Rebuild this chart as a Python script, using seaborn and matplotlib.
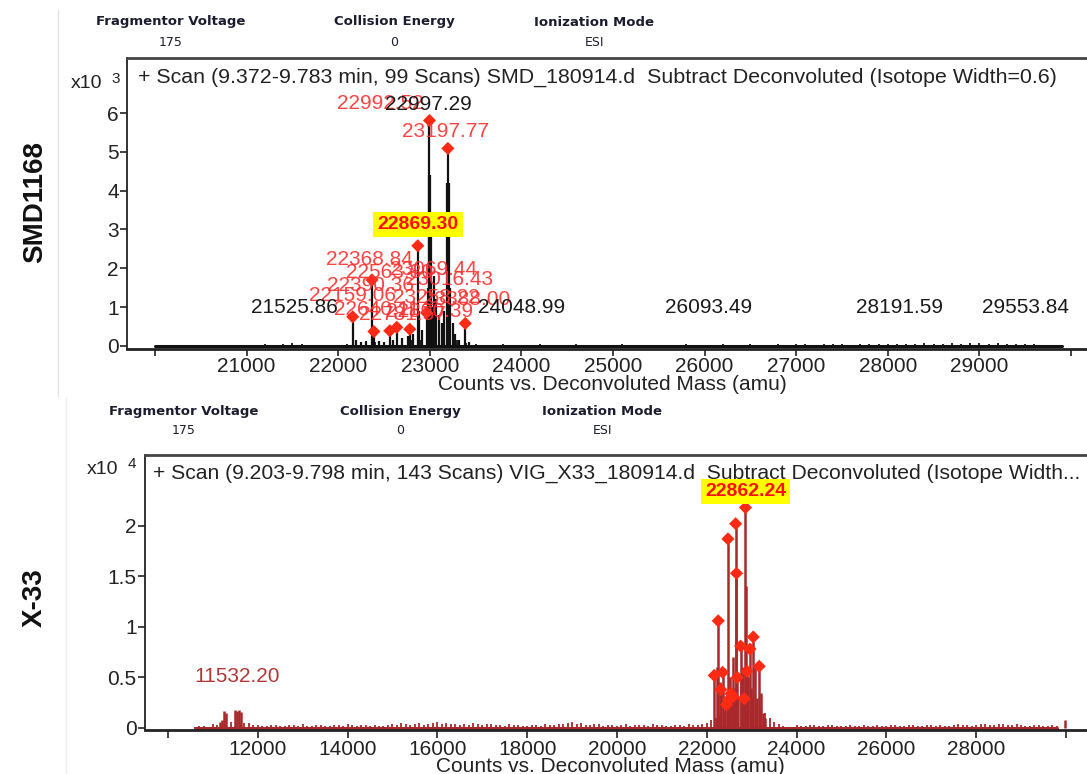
import numpy as np
import pandas as pd
import matplotlib
matplotlib.use("Agg")
import matplotlib.pyplot as plt
import seaborn as sns

# ---------------- data ----------------
header_titles = ["Fragmentor Voltage", "Collision Energy", "Ionization Mode"]
header_values = ["175", "0", "ESI"]

top_title = "+ Scan (9.372-9.783 min, 99 Scans) SMD_180914.d  Subtract Deconvoluted (Isotope Width=0.6)"
bot_title = "+ Scan (9.203-9.798 min, 143 Scans) VIG_X33_180914.d  Subtract Deconvoluted (Isotope Width..."
xlabel = "Counts vs. Deconvoluted Mass (amu)"
sample_names = ["SMD1168", "X-33"]

# top spectrum (x10^3 counts)
top_peak_mass = [22159.06, 22190, 22250, 22300, 22368.84, 22390.36, 22450, 22500, 22563.80, 22600,
                 22640.11, 22700, 22760, 22781.57, 22820, 22869.30, 22880, 22920, 22966.10, 22980,
                 22990, 22997.29, 23003, 23010, 23030, 23050, 23069.44, 23100, 23130, 23160,
                 23185, 23197.77, 23205, 23220, 23250, 23280, 23320, 23388.00, 23430]
top_peak_int = [0.75, 0.15, 0.10, 0.12, 1.70, 0.37, 0.12, 0.10, 0.39, 0.15,
                0.48, 0.20, 0.25, 0.43, 0.30, 2.58, 0.90, 0.40, 0.85, 1.50,
                4.40, 5.81, 4.40, 3.00, 1.00, 1.80, 1.20, 0.80, 0.60, 0.90,
                4.20, 5.09, 4.20, 1.50, 0.60, 0.30, 0.15, 0.58, 0.10]
top_marked = [22159.06, 22368.84, 22390.36, 22563.80, 22640.11, 22781.57, 22869.30,
              22966.10, 22997.29, 23197.77, 23388.00]

top_noise_start, top_noise_step = 20000, 100
top_noise = [0.01, 0.01, 0.01, 0.02, 0.01, 0.01, 0.02, 0.01, 0.02, 0.01,
             0.03, 0.02, 0.04, 0.03, 0.05, 0.08, 0.05, 0.02, 0.01, 0.01,
             0.02, 0.04, 0.08, 0.06, 0.10, 0.08, 0.12, 0.10, 0.15, 0.14,
             0.30, 0.25, 0.20, 0.15, 0.08, 0.04, 0.02,
             0.03, 0.04, 0.02, 0.03, 0.03, 0.04, 0.02, 0.03, 0.03, 0.04,
             0.02, 0.03, 0.03, 0.02, 0.04, 0.03, 0.03, 0.02, 0.03, 0.03,
             0.03, 0.04, 0.02, 0.03, 0.03, 0.05, 0.03, 0.03, 0.04, 0.03,
             0.03, 0.05, 0.03, 0.04, 0.05, 0.03, 0.05, 0.04, 0.05, 0.03,
             0.04, 0.06, 0.04, 0.05, 0.06, 0.04, 0.06, 0.07, 0.05, 0.06,
             0.07, 0.05, 0.07, 0.08, 0.06, 0.07, 0.05, 0.06, 0.05, 0.04,
             0.03, 0.02, 0.02]

top_black_labels = [21525.86, 22997.29, 24048.99, 26093.49, 28191.59, 29553.84]
top_red_labels = ["22992.52", "23197.77", "22368.84", "22563.80", "23069.44", "23016.43",
                  "22390.36", "22159.06", "23258.22", "23388.00", "22640.11", "22781.57", "22800.39"]
top_highlight = "22869.30"

# bottom spectrum (x10^4 counts)
bot_peak_mass = [22167, 22230, 22256, 22290, 22316, 22354, 22400, 22442, 22472, 22487,
                 22520, 22539, 22580, 22590, 22620, 22644, 22663, 22680, 22700, 22755,
                 22760, 22800, 22835, 22862.24, 22880, 22900, 22920, 22962, 22990, 23036,
                 23080, 23120, 23169, 23200, 23260, 23300]
bot_peak_int = [0.52, 0.60, 1.06, 0.45, 0.38, 0.55, 0.25, 0.23, 1.87, 0.28,
                0.50, 0.34, 0.70, 0.31, 0.40, 2.02, 1.53, 0.50, 0.30, 0.81,
                0.50, 0.60, 0.29, 2.18, 1.40, 0.56, 0.50, 0.78, 0.40, 0.90,
                0.60, 0.30, 0.61, 0.35, 0.15, 0.10]
bot_marked = [22167, 22256, 22316, 22354, 22442, 22472, 22487, 22539, 22590, 22644,
              22663, 22680, 22755, 22835, 22862.24, 22900, 22962, 23036, 23169]

bot_noise_start, bot_noise_step = 10600, 200
bot_noise = [0.01, 0.02, 0.04, 0.02, 0.06, 0.04, 0.05, 0.03, 0.02, 0.03,
             0.02, 0.03, 0.04, 0.02, 0.03, 0.02, 0.03, 0.04, 0.02, 0.03,
             0.03, 0.02, 0.04, 0.05, 0.03, 0.05, 0.04, 0.06, 0.05, 0.04,
             0.04, 0.05, 0.03, 0.04, 0.03, 0.04, 0.03, 0.02, 0.03, 0.04,
             0.03, 0.04, 0.06, 0.05, 0.03, 0.04, 0.03, 0.02, 0.04, 0.03,
             0.03, 0.04, 0.03, 0.02, 0.03, 0.04, 0.03, 0.05, 0.10, 0.15,
             0.20, 0.25, 0.30, 0.20, 0.10, 0.04, 0.00, 0.03, 0.02, 0.03,
             0.02, 0.03, 0.02, 0.03, 0.02, 0.02, 0.03, 0.02, 0.03, 0.02,
             0.03, 0.02, 0.03, 0.03, 0.02, 0.04, 0.03, 0.03, 0.04, 0.03,
             0.04, 0.03, 0.03, 0.02, 0.03, 0.02, 0.02]
# second, interleaved noise layer (offset by 100 amu)
bot_noise_b = [0.02, 0.01, 0.03, 0.03, 0.02, 0.05, 0.03, 0.02, 0.03, 0.02,
               0.03, 0.02, 0.02, 0.03, 0.02, 0.03, 0.02, 0.03, 0.03, 0.02,
               0.02, 0.03, 0.03, 0.04, 0.04, 0.03, 0.05, 0.04, 0.04, 0.03,
               0.03, 0.04, 0.04, 0.03, 0.02, 0.03, 0.02, 0.03, 0.02, 0.03,
               0.04, 0.05, 0.04, 0.03, 0.04, 0.02, 0.03, 0.03, 0.02, 0.03,
               0.02, 0.03, 0.02, 0.03, 0.02, 0.03, 0.04, 0.08, 0.12, 0.18,
               0.22, 0.28, 0.25, 0.15, 0.06, 0.02, 0.01, 0.02, 0.03, 0.02,
               0.03, 0.02, 0.02, 0.02, 0.03, 0.02, 0.02, 0.03, 0.02, 0.03,
               0.02, 0.03, 0.02, 0.02, 0.03, 0.03, 0.02, 0.04, 0.03, 0.04,
               0.03, 0.04, 0.02, 0.03, 0.02, 0.03]
bot_spike_mass = [11150, 11200, 11250, 11290, 11500, 11540, 11580, 11620, 29990]
bot_spike_int = [0.06, 0.08, 0.17, 0.15, 0.18, 0.17, 0.18, 0.16, 0.08]
bot_label = "11532.20"
bot_highlight = "22862.24"

# ---------------- style ----------------
W, H = 1087, 774
sns.set_theme(style="white")
plt.rcParams['font.family'] = ['Liberation Sans', 'DejaVu Sans']

BLACK_SPEC = "#111111"
RED_SPEC = "#a8282c"
RED_MARK = "#ff2a14"
RED_TEXT = "#ff3030"

fig = plt.figure(figsize=(W / 100, H / 100), dpi=100)


def fx(px):
    return px / W


def fy(py):
    return 1 - py / H


ax1 = fig.add_axes([fx(127), fy(349), fx(960), (349 - 58) / H])
ax2 = fig.add_axes([fx(145), fy(730), fx(942), (730 - 455) / H])

# faint image-border lines
fig.add_artist(plt.Line2D([fx(58), fx(58)], [fy(10), fy(396)], color="#e2e2e2", lw=1))
fig.add_artist(plt.Line2D([fx(66), fx(66)], [fy(398), fy(774)], color="#eeeeee", lw=1))


def style_axes(ax, xlim, ylim, xticks, xticklabels, yticks, yticklabels, xlen):
    ax.set_xlim(*xlim)
    ax.set_ylim(*ylim)
    ax.set_xticks(xticks)
    ax.set_xticklabels(xticklabels)
    ax.set_yticks(yticks)
    ax.set_yticklabels(yticklabels)
    ax.grid(False)
    ax.set_facecolor("white")
    for s in ["left", "bottom", "top"]:
        ax.spines[s].set_visible(True)
    ax.spines["right"].set_visible(False)
    ax.spines["left"].set_color("#222222")
    ax.spines["left"].set_linewidth(1.3)
    ax.spines["bottom"].set_color("#222222")
    ax.spines["bottom"].set_linewidth(2.0)
    ax.spines["top"].set_color("#444444")
    ax.spines["top"].set_linewidth(2.0)
    ax.tick_params(axis="x", direction="out", length=xlen, width=1.2, color="#222222",
                   labelsize=15, pad=1, bottom=True, labelcolor="#222222")
    ax.tick_params(axis="y", direction="out", length=5, width=1.2, color="#222222",
                   labelsize=15, pad=1, left=True, labelcolor="#222222")
    ax.set_ylabel("")


def draw_spectrum(ax, masses, heights, color, lw):
    ax.vlines(masses, 0, heights, colors=color, lw=lw, zorder=2)


# ---------- top panel ----------
top_noise_mass = top_noise_start + top_noise_step * np.arange(len(top_noise))
base_top = pd.DataFrame({"mass": [top_noise_mass.min(), top_noise_mass.max()], "y": [0, 0]})
sns.lineplot(data=base_top, x="mass", y="y", color=BLACK_SPEC, lw=2.2, ax=ax1, legend=False)
draw_spectrum(ax1, top_noise_mass, top_noise, BLACK_SPEC, 1.3)
draw_spectrum(ax1, top_peak_mass, top_peak_int, BLACK_SPEC, 1.6)

top_df = pd.DataFrame({"mass": top_peak_mass, "intensity": top_peak_int})
top_mk = top_df[top_df["mass"].isin(top_marked)]
sns.scatterplot(data=top_mk, x="mass", y="intensity", marker="D", s=45, color=RED_MARK,
                edgecolor="none", ax=ax1, zorder=5, legend=False)

style_axes(ax1, (19695, 30175), (-0.08, 7.42),
           list(range(20000, 30001, 1000)),
           [""] + [str(v) for v in range(21000, 30000, 1000)] + [""],
           list(range(0, 7)), [str(v) for v in range(0, 7)], 5)

# red overlapping labels (layout positions in data coords)
red_pos = [(22465, 6.24), (23173, 5.52), (22345, 2.22), (22560, 1.88), (23043, 1.96),
           (23217, 1.70), (22355, 1.55), (22159, 1.31), (23075, 1.26), (23402, 1.19),
           (22420, 0.93), (22700, 0.82), (23000, 0.88)]
for txt, (xm, yv) in zip(top_red_labels, red_pos):
    ax1.text(xm, yv, txt, color=RED_TEXT, fontsize=15, ha="center", va="center",
             alpha=0.9, zorder=6)

black_pos = [(21525.86, 0.98), (22990, 6.22), (24000, 0.98), (26040, 0.98), (28130, 0.98), (29500, 0.98)]
for m, (xm, yv) in zip(top_black_labels, black_pos):
    ax1.text(xm, yv, f"{m:.2f}", color="#1a1a1a", fontsize=15, ha="center", va="center", zorder=7)

ax1.text(22871, 3.13, top_highlight, color="#ff1010", fontsize=14, fontweight="bold",
         ha="center", va="center", zorder=8,
         bbox=dict(boxstyle="square,pad=0.22", fc="#ffff00", ec="none"))

ax1.text(0.011, 0.935, top_title, transform=ax1.transAxes, fontsize=15.4, color="#222222",
         ha="left", va="center")
ax1.set_xlabel(xlabel, fontsize=15, color="#222222")
ax1.xaxis.set_label_coords((612 - 127) / 960, -(375 - 349) / 291)
ax1.xaxis.label.set_va("top")

# ---------- bottom panel ----------
bot_noise_mass = bot_noise_start + bot_noise_step * np.arange(len(bot_noise))
bot_noise_mass_b = bot_noise_start + bot_noise_step / 2 + bot_noise_step * np.arange(len(bot_noise_b))
base_bot = pd.DataFrame({"mass": [bot_noise_mass.min(), bot_noise_mass.max()], "y": [0, 0]})
sns.lineplot(data=base_bot, x="mass", y="y", color=RED_SPEC, lw=2.2, ax=ax2, legend=False)
draw_spectrum(ax2, bot_noise_mass, bot_noise, RED_SPEC, 1.3)
draw_spectrum(ax2, bot_noise_mass_b, bot_noise_b, RED_SPEC, 1.3)
draw_spectrum(ax2, bot_spike_mass, bot_spike_int, RED_SPEC, 1.8)
draw_spectrum(ax2, bot_peak_mass, bot_peak_int, RED_SPEC, 1.8)

bot_df = pd.DataFrame({"mass": bot_peak_mass, "intensity": bot_peak_int})
bot_mk = bot_df[bot_df["mass"].isin(bot_marked)]
sns.scatterplot(data=bot_mk, x="mass", y="intensity", marker="D", s=45, color=RED_MARK,
                edgecolor="none", ax=ax2, zorder=5, legend=False)

style_axes(ax2, (9488, 30470), (-0.02, 2.70),
           list(range(10000, 30001, 2000)),
           [""] + [str(v) for v in range(12000, 30000, 2000)] + [""],
           [0, 0.5, 1, 1.5, 2], ["0", "0.5", "1", "1.5", "2"], 6)

ax2.text(11532.20, 0.51, bot_label, color="#b03838", fontsize=15, ha="center", va="center")
ax2.text(22862.24, 2.34, bot_highlight, color="#ff1010", fontsize=14, fontweight="bold",
         ha="center", va="center", zorder=8,
         bbox=dict(boxstyle="square,pad=0.22", fc="#ffff00", ec="none"))
ax2.text(0.009, 0.935, bot_title, transform=ax2.transAxes, fontsize=15.2, color="#222222",
         ha="left", va="center")
ax2.set_xlabel(xlabel, fontsize=15, color="#222222")
ax2.xaxis.set_label_coords((610 - 145) / 942, -(757 - 730) / 275)
ax2.xaxis.label.set_va("top")

# ---------- figure texts ----------
for (xs, yt, yv) in [((171, 394, 594), 22, 43), ((184, 400, 602), 411, 431)]:
    for t, v, x in zip(header_titles, header_values, xs):
        fig.text(fx(x), fy(yt), t, ha="center", va="center", fontsize=9.5, fontweight="bold",
                 color="#1c1c30", family=["DejaVu Sans"])
        fig.text(fx(x), fy(yv), v, ha="center", va="center", fontsize=9,
                 color="#1c1c30", family=["DejaVu Sans"])

for (x10, xe, y, e) in [(87, 116, 84, "3"), (103, 132, 469, "4")]:
    fig.text(fx(x10), fy(y), "x10", ha="center", va="center", fontsize=14, color="#222222")
    fig.text(fx(xe), fy(y - 5), e, ha="center", va="center", fontsize=11, color="#222222")

fig.text(fx(35), fy(202), sample_names[0], rotation=90, ha="center", va="center",
         fontsize=20, fontweight="bold", color="#111111")
fig.text(fx(35), fy(598), sample_names[1], rotation=90, ha="center", va="center",
         fontsize=20, fontweight="bold", color="#111111")

fig.savefig("out.png", dpi=100, facecolor="white")
